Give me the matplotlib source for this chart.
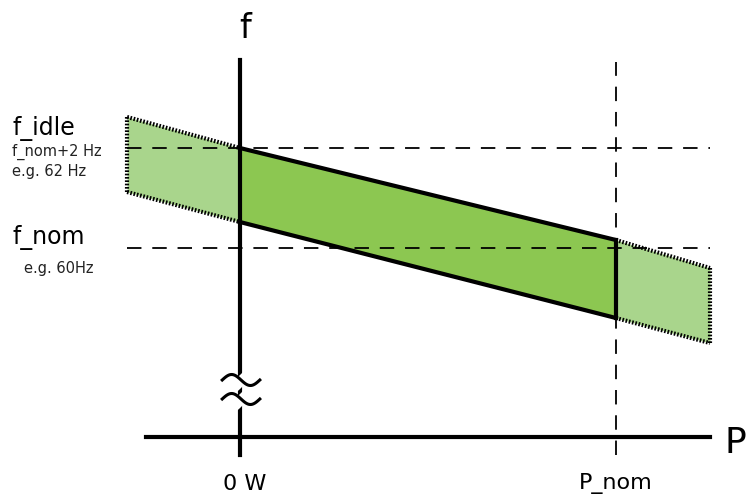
import matplotlib
matplotlib.use("Agg")
import matplotlib.pyplot as plt
import numpy as np

# power axis: 0 W -> 0, P_nom -> 1 ; frequency in Hz
f_nom = 60.0
f_idle = 62.0

# droop band, nominal range (0 W .. P_nom)
band_x = [0.0, 1.0]
band_top = [62.0, 60.16]
band_bottom = [60.52, 58.6]

# extended (out of range) parts
left_x = [-0.30, 0.0]
left_top = [62.62, 62.0]
left_bottom = [61.12, 60.52]
right_x = [1.0, 1.25]
right_top = [60.16, 59.6]
right_bottom = [58.6, 58.1]

dark_green = "#8cc751"
light_green = "#a9d58c"

fig = plt.figure(figsize=(7.46, 5.0), dpi=100)
ax = fig.add_axes([0, 0, 1, 1])
ax.set_xlim(-0.638, 1.346)
ax.set_ylim(54.96, 64.96)
ax.axis("off")

dots = (0, (0.4, 0.4))

# light green extensions with dotted outline
for xs, top, bot in [(left_x, left_top, left_bottom), (right_x, right_top, right_bottom)]:
    ax.fill_between(xs, bot, top, color=light_green, lw=0, zorder=1)
    ax.plot(xs, top, color="black", lw=3, ls=dots, zorder=3)
    ax.plot(xs, bot, color="black", lw=3, ls=dots, zorder=3)
ax.plot([left_x[0], left_x[0]], [left_bottom[0], left_top[0]], color="black", lw=3,
        ls=dots, zorder=3)
ax.plot([right_x[1], right_x[1]], [right_bottom[1], right_top[1]], color="black", lw=3,
        ls=dots, zorder=3)

# dark green nominal band
ax.fill_between(band_x, band_bottom, band_top, color=dark_green, lw=0, zorder=2)
ax.plot(band_x, band_top, color="black", lw=3, zorder=4)
ax.plot(band_x, band_bottom, color="black", lw=3, zorder=4)
ax.plot([1.0, 1.0], [band_bottom[1], band_top[1]], color="black", lw=3, zorder=4)

# dashed guide lines
ax.plot([-0.30, 1.25], [f_idle, f_idle], color="black", lw=1.3, ls=(0, (8, 6)), zorder=5)
ax.plot([-0.30, 1.25], [f_nom, f_nom], color="black", lw=1.3, ls=(0, (8, 6)), zorder=5)
ax.plot([1.0, 1.0], [55.86, 63.72], color="black", lw=1.3, ls=(0, (8, 6)), zorder=5)

# axes
axis_y = 56.22
ax.plot([0, 0], [55.86, 63.76], color="black", lw=3, zorder=6)
ax.plot([-0.25, 1.25], [axis_y, axis_y], color="black", lw=3, zorder=6)

# axis break squiggles
t = np.linspace(-1, 1, 50)
for yb in [57.36, 56.98]:
    sx = t * 0.05 + 0.003
    sy = yb + 0.12 * np.sin(t * np.pi)
    ax.fill_between(sx, sy - 0.14, sy + 0.14, color="white", lw=0, zorder=7)
for yb in [57.36, 56.98]:
    sx = t * 0.05 + 0.003
    sy = yb - 0.11 * np.sin(t * np.pi)
    ax.plot(sx, sy, color="black", lw=2.2, zorder=8)

# labels
ax.text(0.013, 64.38, "f", fontsize=24, ha="center", va="center")
ax.text(1.318, 56.1, "P", fontsize=26, ha="center", va="center")
ax.text(0.012, 55.28, "0 W", fontsize=16, ha="center", va="center")
ax.text(1.0, 55.28, "P_nom", fontsize=16, ha="center", va="center")

ax.text(-0.605, 62.38, "f_idle", fontsize=17, ha="left", va="center")
ax.text(-0.605, 61.92, "f_nom+2 Hz", fontsize=10.5, ha="left", va="center", color="#222222")
ax.text(-0.605, 61.52, "e.g. 62 Hz", fontsize=10.5, ha="left", va="center", color="#222222")
ax.text(-0.605, 60.2, "f_nom", fontsize=17, ha="left", va="center")
ax.text(-0.573, 59.58, "e.g. 60Hz", fontsize=10.5, ha="left", va="center", color="#222222")

fig.savefig("out.png", dpi=100)
